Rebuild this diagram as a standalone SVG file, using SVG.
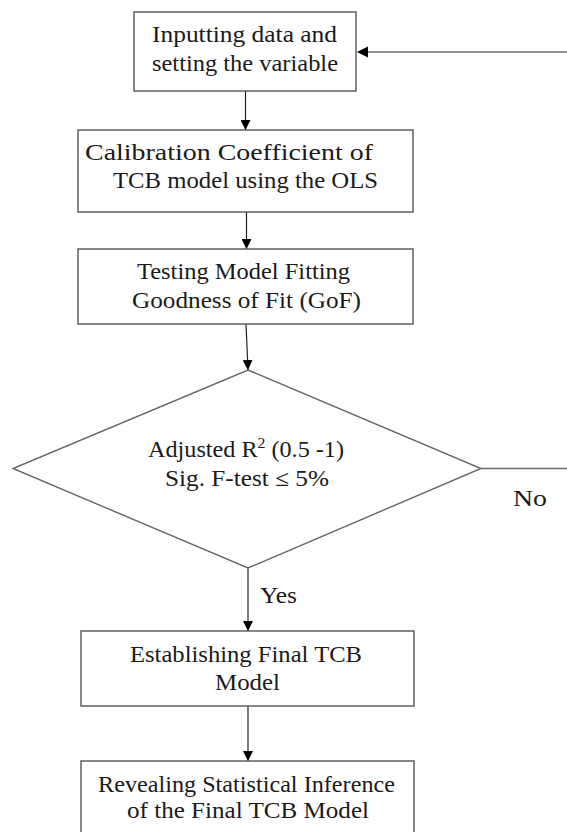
<svg xmlns="http://www.w3.org/2000/svg" width="567" height="832" viewBox="0 0 567 832">
<defs>
<marker id="ah" viewBox="0 0 10 10" refX="10" refY="5" markerWidth="10" markerHeight="10" markerUnits="userSpaceOnUse" orient="auto">
<path d="M0,0 L10,5 L0,10 Z" fill="#000"/>
</marker>
<style>
.box{fill:#fff;stroke:#555;stroke-width:1.4}
.dia{fill:#fff;stroke:#666;stroke-width:1.4}
.t{font-size:23px;fill:#1a1a1a}
.c{fill:none;stroke:#222;stroke-width:1.2}
.g{fill:none;stroke:#6b6b6b;stroke-width:1.6}
</style>
</defs>
<rect width="567" height="832" fill="#fff"/>
<g font-family="Liberation Serif, serif">
<g id="connectors">
<line class="c" x1="245.5" y1="91" x2="245.5" y2="130" marker-end="url(#ah)"/>
<line class="c" x1="246.5" y1="212" x2="246.5" y2="249" marker-end="url(#ah)"/>
<line class="c" x1="246" y1="324" x2="248" y2="370" marker-end="url(#ah)"/>
<line class="c" x1="248" y1="568" x2="248" y2="631" marker-end="url(#ah)"/>
<line class="c" x1="248" y1="706" x2="248" y2="761" marker-end="url(#ah)"/>
<polyline class="g" points="481,468.5 567,468.5"/>
<line class="g" x1="567" y1="52" x2="360" y2="52"/>
<path d="M357,52 L368,46.5 L368,57.5 Z" fill="#000"/>
<text class="t" x="513" y="506" textLength="34" lengthAdjust="spacingAndGlyphs">No</text>
<text class="t" x="260" y="603" textLength="37" lengthAdjust="spacingAndGlyphs">Yes</text>
</g>
<g id="n1">
<rect class="box" x="134" y="12" width="222" height="79"/>
<text class="t" x="152" y="42" textLength="185" lengthAdjust="spacingAndGlyphs">Inputting data and</text>
<text class="t" x="152" y="71" textLength="186" lengthAdjust="spacingAndGlyphs">setting the variable</text>
</g>
<g id="n2">
<rect class="box" x="78" y="130" width="335" height="82"/>
<text class="t" x="85" y="160" textLength="288" lengthAdjust="spacingAndGlyphs">Calibration Coefficient of</text>
<text class="t" x="113" y="188" textLength="265" lengthAdjust="spacingAndGlyphs">TCB model using the OLS</text>
</g>
<g id="n3">
<rect class="box" x="78" y="249" width="335" height="75"/>
<text class="t" x="137" y="279" textLength="213" lengthAdjust="spacingAndGlyphs">Testing Model Fitting</text>
<text class="t" x="132" y="308" textLength="229" lengthAdjust="spacingAndGlyphs">Goodness of Fit (GoF)</text>
</g>
<g id="n4">
<polygon class="dia" points="248,370 481,468.5 248,568 13,468.5"/>
<text class="t" x="148" y="457" textLength="196" lengthAdjust="spacingAndGlyphs">Adjusted R<tspan font-size="15" dy="-9">2</tspan><tspan dy="9"> (0.5 -1)</tspan></text>
<text class="t" x="165" y="486" textLength="164" lengthAdjust="spacingAndGlyphs">Sig. F-test ≤ 5%</text>
</g>
<g id="n5">
<rect class="box" x="81" y="631" width="333" height="75"/>
<text class="t" x="130" y="662" textLength="232" lengthAdjust="spacingAndGlyphs">Establishing Final TCB</text>
<text class="t" x="215" y="690" textLength="65" lengthAdjust="spacingAndGlyphs">Model</text>
</g>
<g id="n6">
<rect class="box" x="81" y="761" width="333" height="80"/>
<text class="t" x="98" y="792" textLength="297" lengthAdjust="spacingAndGlyphs">Revealing Statistical Inference</text>
<text class="t" x="127" y="818" textLength="242" lengthAdjust="spacingAndGlyphs">of the Final TCB Model</text>
</g>
</g>
</svg>
